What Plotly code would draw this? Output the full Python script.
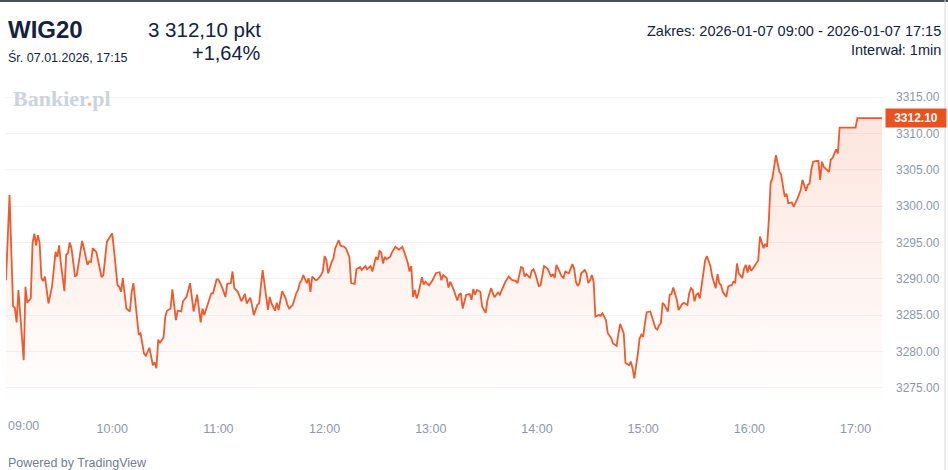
import pandas as pd
import plotly.graph_objects as go

# --- data (WIG20, 1-minute, 2026-01-07) ---
session_start = "2026-01-07 09:00"

minutes = [
    0, 2, 4, 5, 6, 7, 10, 11, 12, 14, 15, 16, 17, 18, 19, 20, 21, 22, 24, 26,
    28, 29, 30, 31, 33, 34, 35, 36, 37, 39, 40, 43, 44, 46, 47, 48, 49, 51, 54, 55,
    57, 60, 61, 63, 64, 65, 66, 68, 70, 71, 72, 75, 76, 78, 79, 81, 83, 84, 85, 86,
    87, 89, 90, 91, 93, 94, 96, 97, 99, 100, 102, 104, 106, 108, 110, 111, 112, 114, 116, 117,
    119, 120, 122, 124, 125, 127, 128, 129, 131, 133, 135, 136, 138, 139, 140, 142, 143, 145, 146, 148,
    149, 150, 152, 153, 154, 156, 158, 159, 160, 162, 164, 165, 166, 167, 168, 170, 171, 172, 173, 175,
    176, 178, 179, 180, 181, 182, 184, 185, 186, 188, 189, 191, 192, 194, 195, 197, 198, 200, 201, 203,
    204, 206, 207, 209, 210, 211, 212, 213, 214, 215, 217, 218, 220, 222, 224, 226, 227, 228, 229, 230,
    231, 232, 233, 235, 236, 237, 239, 241, 243, 245, 246, 247, 249, 250, 251, 253, 255, 256, 257, 258,
    260, 262, 263, 264, 265, 266, 268, 269, 271, 272, 274, 276, 278, 279, 281, 282, 284, 286, 288, 289,
    290, 291, 292, 293, 294, 296, 297, 298, 299, 301, 302, 304, 306, 308, 309, 310, 311, 313, 314, 315,
    316, 318, 320, 321, 322, 323, 324, 325, 327, 328, 329, 330, 331, 332, 333, 335, 336, 337, 339, 340,
    342, 343, 345, 346, 347, 349, 350, 352, 353, 354, 355, 357, 358, 359, 360, 361, 362, 364, 365, 367,
    368, 369, 370, 371, 372, 374, 375, 376, 377, 379, 380, 382, 383, 385, 386, 387, 388, 389, 390, 391,
    392, 394, 395, 396, 398, 399, 401, 402, 403, 404, 405, 407, 408, 409, 410, 411, 412, 413, 414, 416,
    417, 418, 419, 420, 421, 422, 424, 425, 426, 428, 429, 430, 431, 432, 433, 434, 435, 437, 438, 439,
    440, 441, 442, 444, 445, 447, 448, 449, 450, 452, 453, 454, 455, 456, 458, 459, 460, 461, 462, 464,
    465, 466, 467, 469, 470, 471, 480, 481, 495,
]

prices = [
    3289.8, 3301.5, 3286.2, 3286.0, 3284.0, 3288.45, 3278.8, 3288.9, 3286.7, 3287.3,
    3294.9, 3296.2, 3294.6, 3296.0, 3294.9, 3290.1, 3289.7, 3290.3, 3286.6, 3288.9,
    3293.7, 3293.0, 3294.6, 3292.1, 3288.3, 3293.3, 3293.5, 3295.0, 3294.2, 3290.3,
    3290.5, 3295.2, 3294.2, 3291.9, 3292.4, 3292.3, 3294.2, 3293.7, 3290.2, 3290.5,
    3295.1, 3296.25, 3294.0, 3289.1, 3288.9, 3288.2, 3290.1, 3285.9, 3285.5, 3288.2,
    3289.4, 3282.3, 3282.5, 3279.7, 3279.4, 3280.5, 3278.1, 3278.5, 3277.7, 3281.6,
    3281.2, 3281.9, 3284.8, 3285.6, 3285.9, 3288.55, 3284.3, 3285.6, 3285.5, 3286.9,
    3287.5, 3289.4, 3285.5, 3287.8, 3284.0, 3285.9, 3285.0, 3286.6, 3288.0, 3288.0,
    3289.9, 3289.9, 3288.9, 3287.5, 3289.3, 3289.4, 3291.0, 3288.7, 3288.2, 3286.9,
    3287.9, 3286.6, 3287.4, 3286.4, 3285.0, 3286.4, 3286.6, 3291.2, 3289.4, 3285.7,
    3287.5, 3286.6, 3285.6, 3286.7, 3285.7, 3288.3, 3287.3, 3286.4, 3285.9, 3286.4,
    3288.0, 3288.45, 3289.4, 3289.8, 3290.5, 3289.4, 3290.1, 3288.2, 3290.3, 3289.8,
    3289.9, 3290.5, 3291.0, 3293.1, 3292.6, 3290.75, 3292.3, 3292.8, 3294.2, 3295.3,
    3294.55, 3294.4, 3294.2, 3293.0, 3289.4, 3289.3, 3291.3, 3291.6, 3291.2, 3291.75,
    3291.3, 3291.75, 3291.0, 3293.0, 3292.6, 3293.8, 3293.6, 3292.1, 3293.0, 3292.7,
    3293.0, 3293.6, 3294.4, 3294.0, 3294.4, 3292.8, 3292.2, 3291.0, 3291.75, 3287.5,
    3288.45, 3287.3, 3288.0, 3290.2, 3289.2, 3289.6, 3289.1, 3289.8, 3290.8, 3290.9,
    3289.8, 3290.5, 3290.1, 3288.8, 3289.6, 3288.45, 3287.0, 3287.8, 3288.0, 3285.9,
    3287.8, 3287.9, 3287.1, 3288.6, 3287.8, 3288.45, 3288.2, 3286.2, 3285.3, 3287.0,
    3288.7, 3287.45, 3288.1, 3287.8, 3289.0, 3289.5, 3290.3, 3289.8, 3289.7, 3289.4,
    3290.5, 3291.6, 3291.5, 3290.3, 3290.65, 3290.1, 3291.1, 3291.3, 3290.75, 3289.0,
    3289.1, 3291.75, 3291.4, 3290.3, 3290.65, 3290.1, 3291.9, 3290.75, 3290.3, 3290.1,
    3291.0, 3290.75, 3292.0, 3291.4, 3289.6, 3289.0, 3289.4, 3290.75, 3291.2, 3290.75,
    3289.4, 3289.8, 3290.5, 3289.6, 3284.8, 3285.0, 3284.9, 3285.25, 3284.3, 3282.5,
    3281.8, 3281.1, 3280.75, 3282.4, 3283.8, 3282.5, 3278.4, 3278.1, 3278.6, 3277.7,
    3276.3, 3279.7, 3281.8, 3282.3, 3282.0, 3283.9, 3285.4, 3285.5, 3284.8, 3283.2,
    3283.0, 3283.6, 3283.9, 3286.7, 3286.4, 3285.5, 3287.8, 3287.9, 3288.8, 3287.1,
    3285.7, 3286.5, 3286.7, 3286.4, 3288.0, 3288.7, 3288.45, 3286.9, 3287.8, 3288.0,
    3287.3, 3290.75, 3292.5, 3293.1, 3291.75, 3290.3, 3288.7, 3290.65, 3289.4, 3289.1,
    3288.2, 3287.5, 3288.9, 3289.1, 3289.1, 3289.6, 3289.5, 3292.1, 3290.75, 3290.1,
    3291.4, 3291.9, 3290.85, 3291.9, 3291.1, 3291.4, 3292.2, 3292.5, 3295.8, 3294.2,
    3294.8, 3294.4, 3298.1, 3303.2, 3303.8, 3305.6, 3307.0, 3304.7, 3304.3, 3302.7,
    3301.3, 3301.7, 3300.4, 3300.5, 3299.9, 3300.9, 3301.7, 3302.2, 3303.6, 3302.1,
    3302.9, 3303.1, 3305.0, 3306.1, 3306.2, 3306.2, 3303.6, 3306.1, 3305.4, 3304.9,
    3304.7, 3306.4, 3306.6, 3307.8, 3307.25, 3310.8, 3310.8, 3312.1, 3312.1,
]

y_ticks = [3275, 3280, 3285, 3290, 3295, 3300, 3305, 3310, 3315]
x_tick_labels = ["10:00", "11:00", "12:00", "13:00", "14:00", "15:00", "16:00", "17:00"]

last_price = prices[-1]

times = pd.Timestamp(session_start) + pd.to_timedelta(minutes, unit="min")
x_ticks = [pd.Timestamp("2026-01-07 " + t) for t in x_tick_labels]

# --- page geometry (pixels) ---
W, H = 948, 470
ML, MR, MT, MB = 6, 65, 88, 65
PW, PH = W - ML - MR, H - MT - MB


def px(x):
    return (x - ML) / PW


def py(y):
    return (H - MB - y) / PH


LINE = "#f1592a"
NAVY = "#14223f"
GREY = "#8e97a8"

fig = go.Figure()
fig.add_trace(go.Scatter(
    x=times, y=prices, mode="lines",
    line=dict(color=LINE, width=1.8),
    fill="tozeroy",
    fillgradient=dict(
        type="vertical", start=3272.6, stop=3313,
        colorscale=[[0, "rgba(241,89,42,0.0)"], [1, "rgba(241,89,42,0.16)"]],
    ),
    hoverinfo="x+y",
    showlegend=False,
))

fig.update_layout(
    width=W, height=H,
    margin=dict(l=ML, r=MR, t=MT, b=MB),
    paper_bgcolor="white", plot_bgcolor="white",
    font=dict(family="Liberation Sans, Arial, sans-serif", color=NAVY),
    xaxis=dict(
        range=[pd.Timestamp("2026-01-07 09:00:00"), pd.Timestamp("2026-01-07 17:15:30")],
        tickvals=x_ticks, ticktext=x_tick_labels,
        showgrid=False, zeroline=False, showline=False,
        ticks="", ticklabelstandoff=14,
        tickfont=dict(size=12.5, color=GREY),
    ),
    yaxis=dict(
        side="right",
        range=[3272.63, 3316.24],
        tickvals=y_ticks, tickformat=".2f",
        showgrid=True, gridcolor="#f2f3f5", gridwidth=1,
        zeroline=False, showline=False,
        ticks="", ticklabelstandoff=12,
        tickfont=dict(size=12, color=GREY),
    ),
)

ann = []
# 09:00 label sits right of its tick (clamped at the left edge)
ann.append(dict(x=pd.Timestamp(session_start), xref="x", y=py(426), yref="paper",
                text="09:00", showarrow=False, xanchor="left", yanchor="middle",
                font=dict(size=12.5, color=GREY)))
# last price tag
ann.append(dict(x=1, xref="paper", y=last_price, yref="y", xanchor="left", yanchor="middle",
                xshift=2, text="<b>%.2f</b>" % last_price, showarrow=False,
                bgcolor="#e9521f", width=58, height=16, align="center",
                font=dict(size=12, color="white")))
# header
ann.append(dict(x=px(6), y=py(29), xref="paper", yref="paper", xanchor="left", yanchor="middle",
                text="<b>WIG20</b>", showarrow=False, font=dict(size=24, color=NAVY)))
ann.append(dict(x=px(6), y=py(58), xref="paper", yref="paper", xanchor="left", yanchor="middle",
                text="Śr. 07.01.2026, 17:15", showarrow=False, font=dict(size=12.5, color=NAVY)))
ann.append(dict(x=px(263), y=py(29), xref="paper", yref="paper", xanchor="right", yanchor="middle",
                text="3 312,10 pkt", showarrow=False, font=dict(size=20.5, color=NAVY)))
ann.append(dict(x=px(263), y=py(53), xref="paper", yref="paper", xanchor="right", yanchor="middle",
                text="+1,64%", showarrow=False, font=dict(size=20, color=NAVY)))
ann.append(dict(x=px(943), y=py(31), xref="paper", yref="paper", xanchor="right", yanchor="middle",
                text="Zakres: 2026-01-07 09:00 - 2026-01-07 17:15", showarrow=False,
                font=dict(size=14.5, color=NAVY)))
ann.append(dict(x=px(943), y=py(50), xref="paper", yref="paper", xanchor="right", yanchor="middle",
                text="Interwał: 1min", showarrow=False, font=dict(size=14.5, color=NAVY)))
# watermark
ann.append(dict(x=px(11), y=py(98), xref="paper", yref="paper", xanchor="left", yanchor="middle",
                text="<b>Bankier<span style='color:#f6b89c'>.</span>pl</b>", showarrow=False,
                font=dict(family="Liberation Serif, Times New Roman, serif", size=22, color="#cdd3dc")))
# footer
ann.append(dict(x=px(6), y=py(463), xref="paper", yref="paper", xanchor="left", yanchor="middle",
                text="Powered by TradingView", showarrow=False, font=dict(size=12.5, color="#6f7c95")))
fig.update_layout(annotations=ann)

# frame: dark top edge, light right edge
fig.add_shape(type="line", xref="paper", yref="paper", x0=px(0), x1=px(W), y0=py(1), y1=py(1),
              line=dict(color="#4b5058", width=2))
fig.add_shape(type="line", xref="paper", yref="paper", x0=px(945), x1=px(945), y0=py(0), y1=py(H),
              line=dict(color="#d5d8dd", width=1))

# drop the browser's default page margin so the figure fills the window
fig.write_html("out.html", config={"displayModeBar": False},
               post_script="document.body.style.margin='0';")
